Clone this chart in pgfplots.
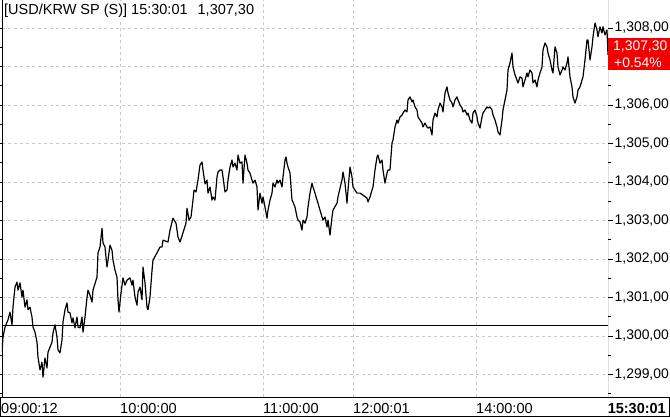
\documentclass[border=0pt]{standalone}
\usepackage{fontspec}
\setmainfont{Liberation Sans}
\usepackage{pgfplots}
\usepackage{pgfplotstable}
\pgfplotsset{compat=1.18}
\definecolor{gridgray}{RGB}{200,200,200}
\definecolor{boxred}{RGB}{240,0,0}
\newcommand\cf{\fontsize{14.5}{17}\selectfont}
\newcommand\tf{\fontsize{13.9}{16}\selectfont}

\pgfplotstableread{
x y
2 1299.58
3 1299.97
5 1300.23
8 1300.42
10 1300.62
12 1300.29
13 1300.75
15 1301.27
17 1301.40
18 1301.19
20 1301.38
22 1301.01
23 1301.19
25 1300.75
27 1300.94
28 1300.68
30 1300.75
32 1300.49
33 1300.23
35 1300.10
37 1299.84
38 1299.45
40 1299.12
42 1299.32
43 1298.93
45 1299.43
47 1299.17
48 1299.58
50 1299.71
52 1299.84
53 1300.08
55 1300.29
57 1299.97
58 1299.64
60 1299.56
62 1299.90
63 1300.36
65 1300.68
67 1300.86
68 1300.62
70 1300.60
72 1300.34
73 1300.47
75 1300.21
77 1300.49
78 1300.23
80 1300.21
82 1300.49
83 1300.10
85 1300.49
87 1301.00
88 1301.19
90 1301.06
92 1300.88
93 1301.19
97 1301.53
98 1302.16
100 1302.31
102 1302.80
103 1302.42
105 1302.31
107 1301.79
108 1301.97
110 1302.36
112 1302.23
113 1301.97
115 1301.71
117 1301.53
118 1300.94
119 1300.62
121 1301.12
123 1301.51
125 1301.32
127 1301.45
130 1301.51
132 1301.32
133 1301.45
135 1301.01
137 1300.80
138 1301.14
140 1301.27
142 1300.94
143 1301.79
145 1301.38
147 1300.75
148 1300.68
150 1301.01
152 1301.70
153 1301.97
157 1302.16
160 1302.31
162 1302.31
163 1302.49
167 1302.45
168 1302.44
170 1302.75
172 1302.96
173 1303.06
176 1302.93
178 1302.57
180 1302.44
183 1302.68
186 1302.93
187 1303.32
189 1303.01
191 1303.09
193 1303.53
194 1303.79
196 1303.74
198 1304.05
200 1304.44
202 1304.52
203 1304.31
205 1303.95
207 1304.05
208 1303.71
210 1303.87
212 1303.53
213 1303.61
215 1303.53
217 1304.13
218 1304.26
220 1304.31
222 1304.31
223 1304.13
225 1303.74
227 1303.79
228 1304.05
230 1304.39
232 1304.57
233 1304.39
235 1304.49
237 1304.31
238 1304.70
240 1304.49
242 1304.52
243 1303.97
245 1304.70
247 1304.49
248 1304.31
250 1304.23
252 1304.05
253 1303.97
255 1304.05
257 1303.87
258 1303.27
260 1303.71
262 1303.45
263 1303.61
265 1303.35
267 1303.06
268 1303.27
270 1303.53
272 1303.71
273 1303.97
275 1303.87
277 1304.05
278 1303.97
280 1304.05
282 1303.87
283 1304.13
285 1304.57
286 1304.65
287 1304.49
288 1304.39
290 1304.23
292 1303.53
293 1303.48
295 1303.35
297 1303.09
298 1303.01
300 1302.96
302 1302.75
303 1303.01
305 1302.93
307 1303.09
308 1303.35
310 1303.71
312 1303.97
313 1303.87
315 1303.71
317 1303.53
318 1303.45
320 1303.27
322 1303.09
323 1303.01
325 1303.09
327 1302.83
328 1303.01
330 1302.62
332 1303.09
333 1303.27
337 1303.45
338 1303.61
340 1303.84
342 1304.05
343 1304.26
345 1303.97
347 1303.45
348 1303.79
350 1304.39
352 1304.13
353 1303.87
355 1303.79
357 1303.71
360 1303.71
363 1303.66
367 1303.58
368 1303.48
370 1303.61
372 1303.79
373 1303.87
375 1304.31
377 1304.65
378 1304.70
380 1304.49
382 1304.57
383 1304.31
385 1303.97
387 1304.23
388 1304.31
390 1304.31
392 1305.01
393 1305.09
395 1305.43
397 1305.61
398 1305.53
400 1305.69
402 1305.74
403 1305.79
405 1305.87
407 1305.82
408 1306.13
410 1306.21
412 1306.08
413 1306.13
415 1305.95
417 1305.87
418 1305.69
420 1305.61
422 1305.53
423 1305.43
425 1305.53
427 1305.43
428 1305.40
430 1305.43
432 1305.22
433 1305.61
435 1305.79
437 1305.69
438 1305.87
440 1306.05
442 1305.95
443 1305.82
445 1306.31
447 1306.47
448 1306.31
450 1306.13
452 1306.05
453 1305.95
455 1306.13
457 1306.21
458 1306.13
460 1306.00
462 1305.92
463 1305.82
465 1305.87
467 1305.74
468 1305.79
470 1305.61
472 1305.53
473 1305.79
475 1305.87
477 1305.69
478 1305.53
480 1305.40
482 1305.69
483 1305.79
485 1305.87
487 1305.95
488 1305.92
490 1305.95
492 1305.87
493 1305.74
495 1305.61
497 1305.43
498 1305.30
500 1305.22
502 1305.61
503 1305.87
505 1306.13
507 1306.39
508 1306.91
510 1307.09
512 1307.35
513 1306.99
515 1306.78
517 1306.65
518 1306.57
520 1306.73
522 1306.70
523 1306.47
525 1306.65
527 1306.83
528 1306.73
530 1306.91
532 1306.83
533 1306.57
535 1306.65
537 1306.47
538 1306.65
540 1306.83
542 1306.99
543 1307.43
545 1307.61
547 1307.51
548 1307.35
550 1307.17
552 1306.91
553 1306.83
555 1307.51
557 1307.35
558 1306.99
560 1306.78
562 1306.91
563 1306.99
565 1306.91
567 1307.09
568 1307.25
570 1306.73
572 1306.47
573 1306.21
575 1306.05
577 1306.21
578 1306.39
580 1306.47
582 1306.65
583 1306.73
585 1307.17
587 1307.69
588 1307.69
590 1307.17
592 1307.51
593 1307.77
595 1308.13
597 1307.95
598 1307.77
600 1308.03
602 1307.87
603 1308.03
605 1307.82
607 1307.95
608 1307.30
}\fxdata

\begin{document}
\begin{tikzpicture}[x=1pt,y=1pt]
\begin{axis}[
  at={(2pt,21pt)}, anchor=south west,
  scale only axis, width=606pt, height=397pt,
  xmin=2, xmax=608, ymin=1298.415, ymax=1308.727,
  axis line style={draw=none},
  xtick={120,263,353,476}, xticklabels={},
  major x tick style={draw=none},
  xmajorgrids, ymajorgrids,
  grid style={gridgray, dash pattern=on 3pt off 3pt, line width=0.6pt},
  ytick={1299,1300,1301,1302,1303,1304,1305,1306,1307,1308},
  yticklabels={{1,299,00},{1,300,00},{1,301,00},{1,302,00},{1,303,00},{1,304,00},{1,305,00},{1,306,00},{},{1,308,00}},
  minor ytick={1298.5,1299.5,1300.5,1301.5,1302.5,1303.5,1304.5,1305.5,1306.5,1307.5},
  yticklabel pos=right,
  tick align=outside,
  major tick length=5pt, minor tick length=3pt,
  y tick style={black, line width=0.6pt},
  yticklabel style={font=\tf, anchor=west, inner sep=0pt, xshift=1.5pt},
  /pgf/number format/assume math mode=true,
  clip=true,
]
\addplot[black, line width=0.8pt] coordinates {(2,1300.28) (608,1300.28)};
\addplot[black, line width=1.2pt, line join=round] table[x=x,y=y] {\fxdata};
\draw[black, line width=0.8pt] (rel axis cs:1,0) -- (rel axis cs:1,1);
\draw[black, line width=0.8pt] (rel axis cs:0,0) -- (rel axis cs:0,1);
\end{axis}
% title
\node[anchor=base west, inner sep=1pt, fill=white, font=\cf] at (3,403) {[USD/KRW SP (S)] 15:30:01\hspace{10pt}1,307,30};
% red label box
\fill[boxred] (608.4,348) rectangle (672,380);
\node[anchor=west, inner sep=0pt, text=white, font=\tf] at (613,371) {1,307,30};
\node[anchor=west, inner sep=0pt, text=white, font=\tf] at (614,355) {+0.54\%};
% bottom label row
\fill[white] (0,0) rectangle (670,21);
\draw[black, line width=0.8pt] (0.6,1.4) rectangle (669.4,21);
\node[anchor=base west, inner sep=0pt, font=\cf] at (1,5) {09:00:12};
\node[anchor=base west, inner sep=0pt, font=\cf] at (120,5) {10:00:00};
\node[anchor=base west, inner sep=0pt, font=\cf] at (263,5) {11:00:00};
\node[anchor=base west, inner sep=0pt, font=\cf] at (353,5) {12:00:01};
\node[anchor=base west, inner sep=0pt, font=\cf] at (476,5) {14:00:00};
\node[anchor=base east, inner sep=0pt, font=\cf\bfseries] at (666,5) {15:30:01};
\pgfresetboundingbox
\path[use as bounding box] (0,0) rectangle (670,418);
\end{tikzpicture}
\end{document}
